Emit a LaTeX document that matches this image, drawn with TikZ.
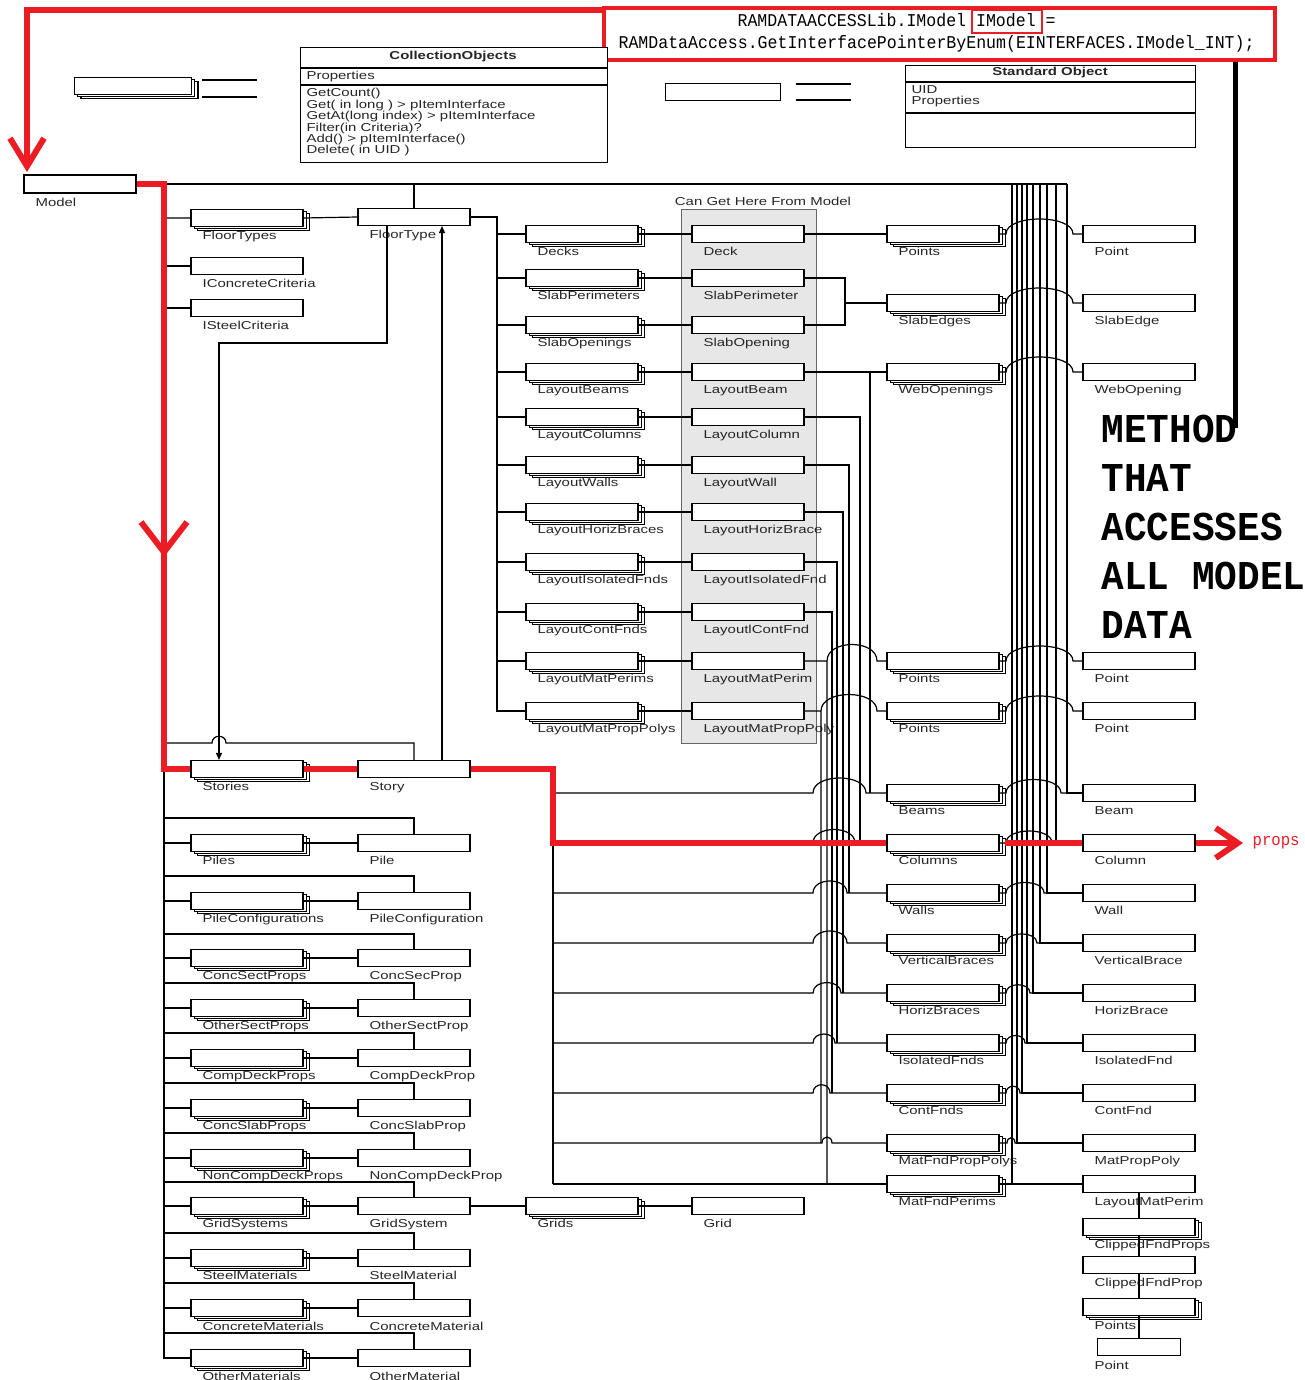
\documentclass[tikz,border=0pt]{standalone}
\usepackage{fontspec}
\usetikzlibrary{arrows.meta,shadows}

\newfontfamily\lblfont[FakeStretch=1.3]{Liberation Sans}
\newfontfamily\codefont[FakeStretch=0.92]{Liberation Mono}
\definecolor{markred}{RGB}{236,28,36}
\definecolor{panelgray}{RGB}{231,231,231}

\tikzset{
  lblfont/.style={font=\lblfont\fontsize{11.5}{11.4}\selectfont, text=black!85, inner sep=0pt},
  lbl/.style={lblfont, anchor=north west, xshift=-45pt, yshift=-4pt},
  umlbox/.style={draw, fill=white, line width=1.1pt, minimum width=112pt, minimum height=17pt, inner sep=0pt},
  itembox/.style={umlbox, label={[lbl]below:#1}},
  stackbox/.style={
    general shadow={shadow xshift=6.4pt, shadow yshift=-3.6pt, draw=black, fill=white, line width=1.1pt},
    general shadow={shadow xshift=3.2pt, shadow yshift=-1.8pt, draw=black, fill=white, line width=1.1pt}},
  collbox/.style={itembox=#1, stackbox},
  linehop/.style={to path={.. controls ([yshift=#1]\tikztostart) and ([yshift=#1]\tikztotarget) .. (\tikztotarget)}},
  linehop/.default=20pt,
  busline/.style={line width=2.4pt},
  redpath/.style={draw=markred, line width=6pt},
}

\begin{document}
\begin{tikzpicture}[x=1pt,y=-1pt,line width=1.2pt,>={Triangle[length=7pt,width=6pt]}]
  \useasboundingbox (0,0) rectangle (1305,1380);

  % code line with the red frame
  \node[draw=markred, line width=4pt, minimum width=671pt, minimum height=52pt, anchor=north west, inner sep=0pt] (codebox) at (602,6) {};
  \node[anchor=base west, inner sep=0pt, font=\codefont\fontsize{18}{22}\selectfont] (codeA) at (737,27) {RAMDATAACCESSLib.IModel IModel =};
  \node[anchor=base west, inner sep=0pt, font=\codefont\fontsize{18}{22}\selectfont] (codeB) at (618,49) {RAMDataAccess.GetInterfacePointerByEnum(EINTERFACES.IModel\_INT);};
  \draw[markred, line width=2.5pt] (972,10) rectangle (1042,33);

  % legend
  \node[umlbox, stackbox, minimum width=117pt, anchor=north west] (legcoll) at (74,77) {};
  \draw[line width=2.5pt] (202,80) -- (257,80) (202,97) -- (257,97);
  \node[umlbox, minimum width=115pt, anchor=north west] (legitem) at (665,83) {};
  \draw[line width=2.5pt] (796,84) -- (851,84) (796,100) -- (851,100);

  % CollectionObjects
  \node[umlbox, minimum width=307pt, minimum height=115pt, anchor=north west] (collobj) at (300,47) {};
  \draw (300,68) -- (607,68) (300,85) -- (607,85);
  \node[lblfont] (colltitle) at (453,57) {\bfseries CollectionObjects};
  \node[lblfont, anchor=west] (collprop) at (306,77) {Properties};
  \node[lblfont, anchor=north west, align=left] (collmeth) at (306,88) {GetCount()\\Get( in long ) > pItemInterface\\GetAt(long index) > pItemInterface\\Filter(in Criteria)?\\Add() > pItemInterface()\\Delete( in UID )};

  % Standard Object
  \node[umlbox, minimum width=290pt, minimum height=82pt, anchor=north west] (stdobj) at (905,65) {};
  \draw (905,82) -- (1195,82) (905,113) -- (1195,113);
  \node[lblfont] (stdtitle) at (1050,73) {\bfseries Standard Object};
  \node[lblfont, anchor=north west, align=left] (stdprop) at (911,85) {UID\\Properties};

  % panel
  \node[draw=black!60, line width=1.2pt, fill=panelgray, minimum width=135pt, minimum height=534pt, anchor=north west, inner sep=0pt] (panel) at (681,209) {};
  \node[lblfont] (paneltxt) at (763,201) {Can Get Here From Model};

  % model and left column
  \node[itembox=Model, minimum height=18pt] (model) at (80,184) {};
  \node[collbox=FloorTypes] (floortypes) at (247,218) {};
  \node[itembox=FloorType] (floortype) at (414,217) {};
  \node[itembox=IConcreteCriteria] (iconc) at (247,266) {};
  \node[itembox=ISteelCriteria] (isteel) at (247,308) {};
  \node[collbox=Stories] (stories) at (247,769) {};
  \node[itembox=Story] (story) at (414,769) {};
  \node[collbox=Piles] (piles) at (247,843) {};
  \node[itembox=Pile] (pile) at (414,843) {};
  \node[collbox=PileConfigurations] (pilecfgs) at (247,901) {};
  \node[itembox=PileConfiguration] (pilecfg) at (414,901) {};
  \node[collbox=ConcSectProps] (concsects) at (247,958) {};
  \node[itembox=ConcSecProp] (concsect) at (414,958) {};
  \node[collbox=OtherSectProps] (othersects) at (247,1008) {};
  \node[itembox=OtherSectProp] (othersect) at (414,1008) {};
  \node[collbox=CompDeckProps] (compdecks) at (247,1058) {};
  \node[itembox=CompDeckProp] (compdeck) at (414,1058) {};
  \node[collbox=ConcSlabProps] (concslabs) at (247,1108) {};
  \node[itembox=ConcSlabProp] (concslab) at (414,1108) {};
  \node[collbox=NonCompDeckProps] (noncomps) at (247,1158) {};
  \node[itembox=NonCompDeckProp] (noncomp) at (414,1158) {};
  \node[collbox=GridSystems] (gridsystems) at (247,1206) {};
  \node[itembox=GridSystem] (gridsystem) at (414,1206) {};
  \node[collbox=Grids] (grids) at (582,1206) {};
  \node[itembox=Grid] (grid) at (748,1206) {};
  \node[collbox=SteelMaterials] (steelmats) at (247,1258) {};
  \node[itembox=SteelMaterial] (steelmat) at (414,1258) {};
  \node[collbox=ConcreteMaterials] (concmats) at (247,1308) {};
  \node[itembox=ConcreteMaterial] (concmat) at (414,1308) {};
  \node[collbox=OtherMaterials] (othermats) at (247,1358) {};
  \node[itembox=OtherMaterial] (othermat) at (414,1358) {};

  % middle columns
  \node[collbox=Decks] (decks) at (582,234) {};
  \node[itembox=Deck] (deck) at (748,234) {};
  \node[collbox=SlabPerimeters] (slabperims) at (582,278) {};
  \node[itembox=SlabPerimeter] (slabperim) at (748,278) {};
  \node[collbox=SlabOpenings] (slabopens) at (582,325) {};
  \node[itembox=SlabOpening] (slabopen) at (748,325) {};
  \node[collbox=LayoutBeams] (lbeams) at (582,372) {};
  \node[itembox=LayoutBeam] (lbeam) at (748,372) {};
  \node[collbox=LayoutColumns] (lcols) at (582,417) {};
  \node[itembox=LayoutColumn] (lcol) at (748,417) {};
  \node[collbox=LayoutWalls] (lwalls) at (582,465) {};
  \node[itembox=LayoutWall] (lwall) at (748,465) {};
  \node[collbox=LayoutHorizBraces] (lhbraces) at (582,512) {};
  \node[itembox=LayoutHorizBrace] (lhbrace) at (748,512) {};
  \node[collbox=LayoutIsolatedFnds] (lisofnds) at (582,562) {};
  \node[itembox=LayoutIsolatedFnd] (lisofnd) at (748,562) {};
  \node[collbox=LayoutContFnds] (lcontfnds) at (582,612) {};
  \node[itembox=LayoutlContFnd] (lcontfnd) at (748,612) {};
  \node[collbox=LayoutMatPerims] (lmatperims) at (582,661) {};
  \node[itembox=LayoutMatPerim] (lmatperim) at (748,661) {};
  \node[collbox=LayoutMatPropPolys] (lmatpolys) at (582,711) {};
  \node[itembox=LayoutMatPropPoly] (lmatpoly) at (748,711) {};

  % right columns
  \node[collbox=Points] (pointsA) at (943,234) {};
  \node[itembox=Point] (pointA) at (1139,234) {};
  \node[collbox=SlabEdges] (slabedges) at (943,303) {};
  \node[itembox=SlabEdge] (slabedge) at (1139,303) {};
  \node[collbox=WebOpenings] (webopens) at (943,372) {};
  \node[itembox=WebOpening] (webopen) at (1139,372) {};
  \node[collbox=Points] (pointsB) at (943,661) {};
  \node[itembox=Point] (pointB) at (1139,661) {};
  \node[collbox=Points] (pointsC) at (943,711) {};
  \node[itembox=Point] (pointC) at (1139,711) {};
  \node[collbox=Beams] (beams) at (943,793) {};
  \node[itembox=Beam] (beam) at (1139,793) {};
  \node[collbox=Columns] (columns) at (943,843) {};
  \node[itembox=Column] (column) at (1139,843) {};
  \node[collbox=Walls] (walls) at (943,893) {};
  \node[itembox=Wall] (wall) at (1139,893) {};
  \node[collbox=VerticalBraces] (vbraces) at (943,943) {};
  \node[itembox=VerticalBrace] (vbrace) at (1139,943) {};
  \node[collbox=HorizBraces] (hbraces) at (943,993) {};
  \node[itembox=HorizBrace] (hbrace) at (1139,993) {};
  \node[collbox=IsolatedFnds] (isofnds) at (943,1043) {};
  \node[itembox=IsolatedFnd] (isofnd) at (1139,1043) {};
  \node[collbox=ContFnds] (contfnds) at (943,1093) {};
  \node[itembox=ContFnd] (contfnd) at (1139,1093) {};
  \node[collbox=MatFndPropPolys] (matpolys) at (943,1143) {};
  \node[itembox=MatPropPoly] (matpoly) at (1139,1143) {};
  \node[collbox=MatFndPerims] (matperims) at (943,1184) {};
  \node[itembox=LayoutMatPerim] (fmatperim) at (1139,1184) {};
  \node[collbox=ClippedFndProps] (clipprops) at (1139,1227) {};
  \node[itembox=ClippedFndProp] (clipprop) at (1139,1265) {};
  \node[collbox=Points] (fpoints) at (1139,1307) {};
  \node[itembox=Point, minimum width=83pt] (fpoint) at (1139,1347) {};

  % model bus
  \draw[busline] (model.east) -- (1067,184);
  \draw[busline] (164,184) -- (164,1358);
  \draw (414,184) -- (floortype.north);
  \draw (floortypes.west) -- ++(-27,0) (floortypes.east) -- (floortype.west);
  \draw (iconc.west) -- ++(-27,0) (isteel.west) -- ++(-27,0);
  \draw[->] ([xshift=-27pt]floortype.south) |- (219,343) -- (219,0 |- stories.north);
  \draw[->] ([xshift=28pt]story.north) -- ([xshift=28pt]floortype.south);
  \draw (164,743) -- (212,743) to[linehop=9pt] (226,743) -| (story.north);
  \draw (stories.west) -- ++(-27,0) (stories.east) -- (story.west);

  % collections under the model
  \draw (piles.west) -- ++(-27,0) (piles.east) -- (pile.west) (164,818) -| (pile.north);
  \draw (pilecfgs.west) -- ++(-27,0) (pilecfgs.east) -- (pilecfg.west) (164,876) -| (pilecfg.north);
  \draw (concsects.west) -- ++(-27,0) (concsects.east) -- (concsect.west) (164,934) -| (concsect.north);
  \draw (othersects.west) -- ++(-27,0) (othersects.east) -- (othersect.west) (164,983) -| (othersect.north);
  \draw (compdecks.west) -- ++(-27,0) (compdecks.east) -- (compdeck.west) (164,1033) -| (compdeck.north);
  \draw (concslabs.west) -- ++(-27,0) (concslabs.east) -- (concslab.west) (164,1083) -| (concslab.north);
  \draw (noncomps.west) -- ++(-27,0) (noncomps.east) -- (noncomp.west) (164,1133) -| (noncomp.north);
  \draw (gridsystems.west) -- ++(-27,0) (gridsystems.east) -- (gridsystem.west) (164,1182) -| (gridsystem.north);
  \draw (gridsystem.east) -- (grids.west) (grids.east) -- (grid.west);
  \draw (steelmats.west) -- ++(-27,0) (steelmats.east) -- (steelmat.west) (164,1233) -| (steelmat.north);
  \draw (concmats.west) -- ++(-27,0) (concmats.east) -- (concmat.west) (164,1283) -| (concmat.north);
  \draw (othermats.west) -- ++(-27,0) (othermats.east) -- (othermat.west) (164,1333) -| (othermat.north);

  % floor type collections
  \draw[busline] (floortype.east) -- (497,217) -- (497,711);
  \draw (decks.west) -- ++(-29,0) (decks.east) -- (deck.west);
  \draw (slabperims.west) -- ++(-29,0) (slabperims.east) -- (slabperim.west);
  \draw (slabopens.west) -- ++(-29,0) (slabopens.east) -- (slabopen.west);
  \draw (lbeams.west) -- ++(-29,0) (lbeams.east) -- (lbeam.west);
  \draw (lcols.west) -- ++(-29,0) (lcols.east) -- (lcol.west);
  \draw (lwalls.west) -- ++(-29,0) (lwalls.east) -- (lwall.west);
  \draw (lhbraces.west) -- ++(-29,0) (lhbraces.east) -- (lhbrace.west);
  \draw (lisofnds.west) -- ++(-29,0) (lisofnds.east) -- (lisofnd.west);
  \draw (lcontfnds.west) -- ++(-29,0) (lcontfnds.east) -- (lcontfnd.west);
  \draw (lmatperims.west) -- ++(-29,0) (lmatperims.east) -- (lmatperim.west);
  \draw (lmatpolys.west) -- ++(-29,0) (lmatpolys.east) -- (lmatpoly.west);

  % layout items to the member collections
  \draw (deck.east) -- (pointsA.west);
  \draw (slabperim.east) -| (845,303) -- (slabedges.west) (slabopen.east) -| (845,303);
  \draw (lbeam.east) -- (webopens.west) (lbeam.east) -| (870,793);
  \draw (lcol.east) -| (860,843);
  \draw (lwall.east) -| (849,893);
  \draw (lhbrace.east) -| (843,993);
  \draw (lisofnd.east) -| (837,1043);
  \draw (lcontfnd.east) -| (832,1093);
  \draw (lmatperim.east) -| (827,1184) (827,661) to[linehop=22pt] (877,661) -- (pointsB.west);
  \draw (lmatpoly.east) -| (821,1143) (821,711) to[linehop=22pt] (877,711) -- (pointsC.west);

  % story collections
  \draw[busline] (story.east) -- (553,769) -- (553,1184);
  \draw (553,793) -- (813,793) to[linehop] (866,793) -- (beams.west);
  \draw (553,843) -- (813,843) to[linehop=18pt] (855,843) -- (columns.west);
  \draw (553,893) -- (813,893) to[linehop=16pt] (847,893) -- (walls.west);
  \draw (553,943) -- (813,943) to[linehop=16pt] (847,943) -- (vbraces.west);
  \draw (553,993) -- (813,993) to[linehop=14pt] (841,993) -- (hbraces.west);
  \draw (553,1043) -- (813,1043) to[linehop=12pt] (835,1043) -- (isofnds.west);
  \draw (553,1093) -- (813,1093) to[linehop=11pt] (830,1093) -- (contfnds.west);
  \draw (553,1143) -- (822,1143) to[linehop=8pt] (832,1143) -- (matpolys.west);
  \draw (553,1184) -- (matperims.west);

  % model bus to the single items
  \draw (1067,184) |- (beam.west);
  \draw (1056,184) |- (column.west);
  \draw (1047,184) |- (wall.west);
  \draw (1040,184) |- (vbrace.west);
  \draw (1033,184) |- (hbrace.west);
  \draw (1027,184) |- (isofnd.west);
  \draw (1022,184) |- (contfnd.west);
  \draw (1017,184) |- (matpoly.west);
  \draw (1012,184) |- (fmatperim.west);

  % collections to items
  \draw (pointsA.east) -- (1006,234) to[linehop] (1073,234) -- (pointA.west);
  \draw (slabedges.east) -- (1006,303) to[linehop] (1073,303) -- (slabedge.west);
  \draw (webopens.east) -- (1006,372) to[linehop] (1073,372) -- (webopen.west);
  \draw (pointsB.east) -- (1006,661) to[linehop] (1073,661) -- (pointB.west);
  \draw (pointsC.east) -- (1006,711) to[linehop] (1073,711) -- (pointC.west);
  \draw (beams.east) -- (1006,793) to[linehop=18pt] (1061,793) -- (beam.west);
  \draw (columns.east) -- (1006,843) to[linehop=16pt] (1052,843) -- (column.west);
  \draw (walls.east) -- (1006,893) to[linehop=14pt] (1044,893) -- (wall.west);
  \draw (vbraces.east) -- (1006,943) to[linehop=12pt] (1037,943) -- (vbrace.west);
  \draw (hbraces.east) -- (1006,993) to[linehop=11pt] (1030,993) -- (hbrace.west);
  \draw (isofnds.east) -- (1006,1043) to[linehop=10pt] (1025,1043) -- (isofnd.west);
  \draw (contfnds.east) -- (1006,1093) to[linehop=9pt] (1020,1093) -- (contfnd.west);
  \draw (matpolys.east) -- (1007,1143) to[linehop=7pt] (1015,1143) -- (matpoly.west);
  \draw (matperims.east) -- (fmatperim.west);
  \draw (fmatperim.south) -- (clipprops.north) (clipprops.south) -- (clipprop.north)
        (clipprop.south) -- (fpoints.north) (fpoints.south) -- (fpoint.north);

  % red path to the column props
  \draw[redpath] ([yshift=-4pt]codebox.north west) -| (27,150);
  \draw[redpath, -{Straight Barb[length=28pt,width=34pt]}] (27,140) -- (27,172);
  \draw[redpath] (model.east) -- (164,184) -- (164,769) -- (stories.west);
  \draw[redpath, -{Straight Barb[length=30pt,width=46pt]}] (164,500) -- (164,557);
  \draw[redpath] (stories.east) -- (story.west);
  \draw[redpath] (story.east) -- (553,769) -- (553,843) -- (columns.west);
  \draw[redpath] ([xshift=5pt]columns.east) -- (column.west);
  \draw[redpath, -{Straight Barb[length=22pt,width=30pt]}] (column.east) -- (1243,843);
  \node[anchor=west, inner sep=0pt, text=markred, font=\codefont\fontsize{17}{20}\selectfont] (props) at (1252,843) {props};

  % access method note
  \draw[line width=5pt] (1235,0 |- codebox.south) -- (1235,428);
  \node[anchor=north west, inner sep=0pt, align=left, font=\codefont\bfseries\fontsize{41}{49}\selectfont] (method) at (1101,414) {METHOD\\THAT\\ACCESSES\\ALL MODEL\\DATA};
\end{tikzpicture}
\end{document}
